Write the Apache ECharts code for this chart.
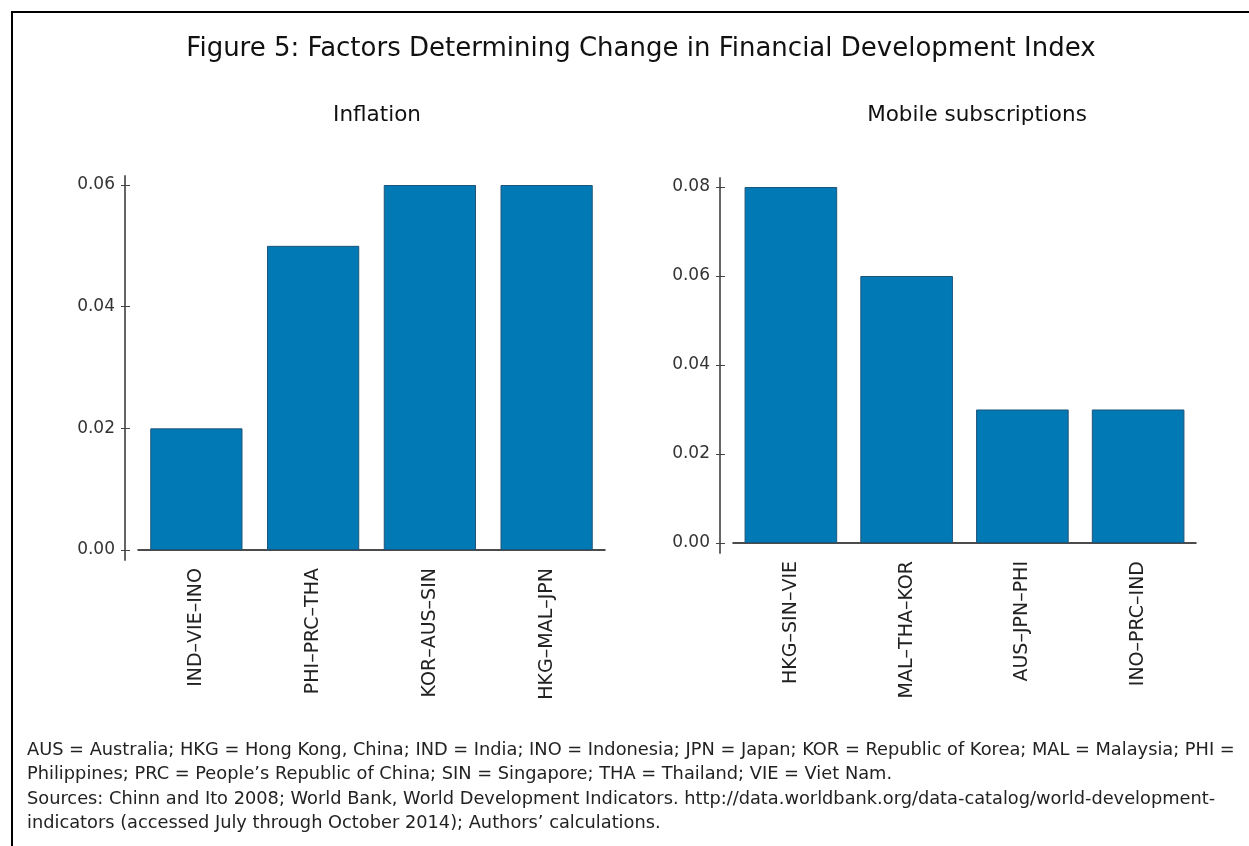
<!DOCTYPE html>
<html>
<head>
<meta charset="utf-8">
<title>Figure 5</title>
<script src="https://cdn.jsdelivr.net/npm/echarts@6/dist/echarts.min.js"></script>
<style>
  html, body { margin: 0; padding: 0; background: #fff; }
  #chart { position: absolute; left: 0; top: 0; width: 1249px; height: 846px; }
  #frame { position: absolute; left: 11px; top: 11px; width: 1300px; height: 900px;
           border-top: 2px solid #000; border-left: 2px solid #000; pointer-events: none; }
</style>
</head>
<body>
<div id="chart"></div>
<div id="frame"></div>
<script>
// 通胀
var inflationCats = ['IND–VIE–INO', 'PHI–PRC–THA', 'KOR–AUS–SIN', 'HKG–MAL–JPN'];
var inflationVals = [0.02, 0.05, 0.06, 0.06];
var inflationTicks = [0, 0.02, 0.04, 0.06];

// 移动电话订阅
var mobileCats = ['HKG–SIN–VIE', 'MAL–THA–KOR', 'AUS–JPN–PHI', 'INO–PRC–IND'];
var mobileVals = [0.08, 0.06, 0.03, 0.03];
var mobileTicks = [0, 0.02, 0.04, 0.06, 0.08];

var footLines = [
    'AUS = Australia; HKG = Hong Kong, China; IND = India; INO = Indonesia; JPN = Japan; KOR = Republic of Korea; MAL = Malaysia; PHI =',
    'Philippines; PRC = People’s Republic of China; SIN = Singapore; THA = Thailand; VIE = Viet Nam.',
    'Sources: Chinn and Ito 2008; World Bank, World Development Indicators. http://data.worldbank.org/data-catalog/world-development-',
    'indicators (accessed July through October 2014); Authors’ calculations.'
];

var FONT = '"DejaVu Sans", "Open Sans", sans-serif';
var BAR = '#0079b5';

function fmt(v) { return v.toFixed(2); }

// 一个面板用两根y轴：一根画线、标签和外刻度，一根只画内刻度，拼成“+”
function yAxes(gridIndex, min, max, ticks) {
    return [{
        type: 'value', gridIndex: gridIndex, position: 'left', min: min, max: max, offset: 13,
        splitLine: { show: false },
        axisLine: { show: true, lineStyle: { color: '#666', width: 2 } },
        axisTick: { show: true, length: 4, customValues: ticks, lineStyle: { color: '#444', width: 1 } },
        axisLabel: { customValues: ticks, formatter: fmt, margin: 10, color: '#333', fontSize: 17, fontFamily: FONT }
    }, {
        type: 'value', gridIndex: gridIndex, position: 'left', min: min, max: max, offset: 13,
        splitLine: { show: false },
        axisLine: { show: false },
        axisTick: { show: true, inside: true, length: 5, customValues: ticks, lineStyle: { color: '#444', width: 1 } },
        axisLabel: { show: false }
    }];
}

function xAxis(gridIndex, cats) {
    return {
        type: 'category', gridIndex: gridIndex, data: cats,
        axisLine: { onZero: true, lineStyle: { color: '#111', width: 1.5 } },
        axisTick: { show: false },
        axisLabel: { rotate: 90, margin: 8, interval: 0, color: '#222', fontSize: 19, fontFamily: FONT }
    };
}

var myChart = echarts.init(document.getElementById('chart'));

var graphics = [];
for (var i = 0; i < footLines.length; i++) {
    graphics.push({
        type: 'text', left: 27, top: 741 + i * 24.5,
        style: { text: footLines[i], fill: '#222', font: '17.8px ' + FONT }
    });
}

var option = {
    backgroundColor: '#fff',
    animation: false,
    title: [
        { text: 'Figure 5: Factors Determining Change in Financial Development Index', left: 636, top: 31, textAlign: 'center',
          textStyle: { fontSize: 26, fontWeight: 'normal', color: '#111', fontFamily: FONT } },
        { text: 'Inflation', left: 372, top: 99, textAlign: 'center',
          textStyle: { fontSize: 21.5, fontWeight: 'normal', color: '#111', fontFamily: FONT } },
        { text: 'Mobile subscriptions', left: 972, top: 99, textAlign: 'center',
          textStyle: { fontSize: 21.5, fontWeight: 'normal', color: '#111', fontFamily: FONT } }
    ],
    grid: [
        { left: 138, top: 176, width: 467, height: 384 },
        { left: 733, top: 178, width: 463, height: 375 }
    ],
    xAxis: [xAxis(0, inflationCats), xAxis(1, mobileCats)],
    yAxis: yAxes(0, -0.00164, 0.06148, inflationTicks).concat(yAxes(1, -0.00225, 0.08202, mobileTicks)),
    series: [
        { name: 'Inflation', type: 'bar', xAxisIndex: 0, yAxisIndex: 0, data: inflationVals,
          barCategoryGap: '21%', itemStyle: { color: BAR, borderColor: '#1f5479', borderWidth: 1 } },
        { name: 'Mobile subscriptions', type: 'bar', xAxisIndex: 1, yAxisIndex: 2, data: mobileVals,
          barCategoryGap: '20%', itemStyle: { color: BAR, borderColor: '#1f5479', borderWidth: 1 } }
    ],
    graphic: graphics
};
myChart.setOption(option);
</script>
</body>
</html>
